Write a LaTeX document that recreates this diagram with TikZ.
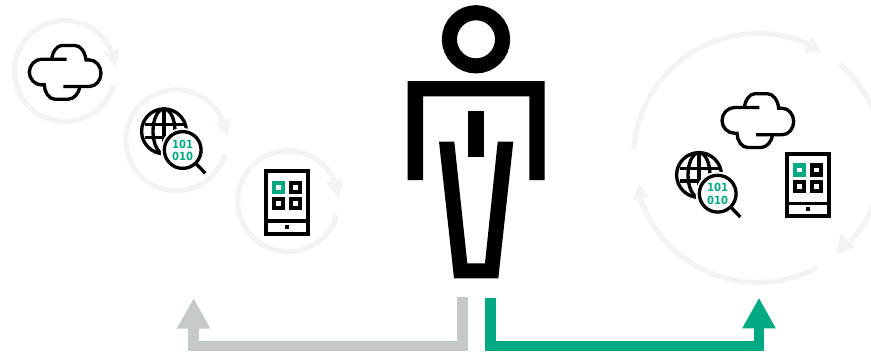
\documentclass[tikz,border=0pt]{standalone}
\usepackage{xcolor}
\usepackage{fontspec}
\usepackage{tikz}
\usetikzlibrary{arrows.meta,calc}
\newfontfamily\digitfont{DejaVu Sans Condensed}
\definecolor{ringgray}{HTML}{F3F3F3}
\definecolor{pathgray}{HTML}{C6C9CA}
\definecolor{pathgreen}{HTML}{01A982}
\tikzstyle{ring} = [draw=ringgray, line width=3.9pt]
\tikzstyle{ringhead} = [fill=ringgray]
\tikzstyle{iconline} = [draw=black, line width=2.5pt]
\tikzstyle{tabletline} = [draw=black, line width=3pt]
\tikzstyle{body} = [fill=black]
\tikzstyle{grayarrow} = [-{Triangle[length=23pt,width=23.5pt]}, draw=pathgray, line width=8pt, color=pathgray]
\tikzstyle{greenarrow} = [-{Triangle[length=23pt,width=23.5pt]}, draw=pathgreen, line width=8pt, color=pathgreen]
\tikzstyle{bits} = [font=\digitfont\bfseries\fontsize{8.4pt}{8.4pt}\selectfont, text=pathgreen, inner sep=0pt]
\tikzset{
  cycleicon/.pic={
    \draw [ring] (16:50.5) arc[start angle=16, end angle=336, radius=50.5];
    \fill [ringhead] (51,-3.5) -- (38,-18.5) -- (54.5,-22) -- cycle;
  },
  cloudicon/.pic={
    \draw [iconline] (1.7,-13) -- (-23.3,-13) .. controls (-30,-13) and (-35.7,-7) .. (-35.7,0)
      .. controls (-35.7,7) and (-30,12.7) .. (-23.3,12.7) -- (-20.7,12.7)
      .. controls (-20.7,20) and (-16,27) .. (-10,27) -- (3.3,27) .. controls (9,27) and (14,21) .. (15,14.3);
    \draw [iconline] (-1.7,14.3) -- (24.3,14.3) .. controls (31,14.3) and (36,8) .. (36,1)
      .. controls (36,-6) and (31,-12.3) .. (24.3,-12.3) -- (21,-12.3)
      .. controls (20,-21) and (15,-26.7) .. (10,-26.7) -- (-3.3,-26.7) .. controls (-8,-26.7) and (-13,-20) .. (-13.3,-12.3);
  },
  globeicon/.pic={
    \draw [iconline] (0,0) circle (22.4);
    \draw [iconline] (0,0) ellipse (11 and 22.4);
    \draw [iconline] (0,-22.4) -- (0,22.4);
    \draw [iconline] (-19.5,-6.5) -- (19.5,-6.5);
    \draw [iconline] (-19.5,6) -- (19.5,6);
    \fill [white] (18.7,18.7) circle (22);
    \draw [iconline] (18.7,18.7) circle (18.4);
    \draw [iconline] (32,32.3) -- (41.3,42);
    \node [bits] (bitstop) at (18.7,12.7) {101};
    \node [bits] (bitsbottom) at (18.7,25.2) {010};
  },
  tableticon/.pic={
    \draw [tabletline] (-21,-31.4) rectangle (21,31.4);
    \draw [iconline] (-21,18.7) -- (21,18.7);
    \fill (-1.9,22.4) rectangle (1.9,26.2);
    \foreach \sx/\sy/\scol in {-8.3/-15/pathgreen, 8.7/-15/black, -8.3/1.4/black, 8.7/1.4/black}
      \draw [draw=\scol, line width=3.2pt] (\sx-4.6,\sy-4.6) rectangle (\sx+4.6,\sy+4.6);
  }
}

\begin{document}
\begin{tikzpicture}[x=0.75pt, y=0.75pt, yscale=-1, line join=miter, every pic/.style={yscale=-1}]
    \clip (0,0) rectangle (871,354);

    \foreach \cx/\cy in {65/71, 176.3/140.3, 288.3/201.3}
      \pic at (\cx,\cy) {cycleicon};
    \pic (cloudleft) at (65,72.2) {cloudicon};
    \pic (globeleft) at (164,131.3) {globeicon};
    \pic (tabletleft) at (287,202.3) {tableticon};

    \coordinate (bigcycle) at (758,158);
    \draw [ring] ($(bigcycle)+(-176:124.5)$) arc[start angle=-176, end angle=-66, radius=124.5];
    \draw [ring] ($(bigcycle)+(-49:124.5)$) arc[start angle=-49, end angle=42, radius=124.5];
    \draw [ring] ($(bigcycle)+(61.6:124.5)$) arc[start angle=61.6, end angle=164, radius=124.5];
    \fill [ringhead] (811.7,36.7) -- (822.7,52.7) -- (803.3,52.7) -- cycle;
    \fill [ringhead] (855,246.7) -- (836,254.7) -- (840.7,233.3) -- cycle;
    \fill [ringhead] (632.3,200.7) -- (648.3,196.7) -- (639,183.3) -- cycle;
    \pic (cloudright) at (757.7,120.5) {cloudicon};
    \pic (globeright) at (699,175) {globeicon};
    \pic (tabletright) at (807.8,185) {tableticon};

    \draw [line width=11.3pt] (476,39.3) circle (26.6);
    \fill [body] (407.7,81) -- (544.7,81) -- (544.7,180) -- (529.3,180) -- (529.3,96.3)
      -- (423,96.3) -- (423,180) -- (407.7,180) -- cycle;
    \fill [body] (468,111) rectangle (484,157);
    \fill [body] (439,141.7) -- (454.3,141.7) -- (467.3,263.3) -- (485,263.3) -- (497.7,141.7)
      -- (513.3,141.7) -- (498.3,278.3) -- (454,278.3) -- cycle;

    \coordinate (grayfoot) at (462.2,297);
    \coordinate (graycorner) at (462.2,346);
    \coordinate (graytip) at (193.6,298);
    \coordinate (greenfoot) at (490.2,298);
    \coordinate (greencorner) at (490.2,346);
    \coordinate (greentip) at (759,297.7);
    \draw [grayarrow] (grayfoot) -- (graycorner) -| (graytip);
    \draw [greenarrow] (greenfoot) -- (greencorner) -| (greentip);
\end{tikzpicture}
\end{document}
